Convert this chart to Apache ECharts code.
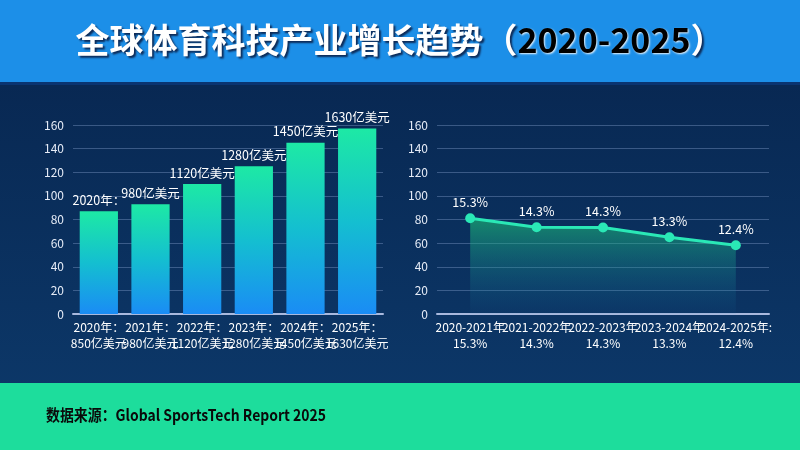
<!DOCTYPE html>
<html>
<head>
<meta charset="utf-8">
<script src="https://cdn.jsdelivr.net/npm/echarts@6/dist/echarts.min.js"></script>
<style>
html,body{margin:0;padding:0;width:800px;height:450px;overflow:hidden;background:#0b2d5a;}
#c{width:800px;height:450px;}
</style>
</head>
<body>
<div id="c"></div>
<script>
// Data
var titleMain = '全球体育科技产业增长趋势（';
var titleYears = '2020-2025';
var titleEnd = '）';
var sourceText = '数据来源：Global SportsTech Report 2025';

var barCategories = ['2020年：\n850亿美元', '2021年：\n980亿美元', '2022年：\n1120亿美元', '2023年：\n1280亿美元', '2024年：\n1450亿美元', '2025年：\n1630亿美元'];
var barValues = [87, 93, 110, 125, 145, 157];
var barLabels = ['2020年：', '980亿美元', '1120亿美元', '1280亿美元', '1450亿美元', '1630亿美元'];

var lineCategories = ['2020-2021年\n15.3%', '2021-2022年\n14.3%', '2022-2023年\n14.3%', '2023-2024年\n13.3%', '2024-2025年:\n12.4%'];
var lineValues = [81, 73.5, 73.3, 65, 58.2];
var lineLabels = ['15.3%', '14.3%', '14.3%', '13.3%', '12.4%'];

var yTicks = {min: 0, max: 160, interval: 20};

var FONT = '"Noto Sans CJK SC", "Noto Sans", sans-serif';
var chart = echarts.init(document.getElementById('c'), null, {renderer: 'canvas'});

function yAxis(idx) {
  return {
    type: 'value', gridIndex: idx, min: yTicks.min, max: yTicks.max, interval: yTicks.interval,
    axisLine: {show: false}, axisTick: {show: false},
    axisLabel: {color: '#e6ecf7', fontSize: 12, fontFamily: FONT, margin: 9},
    splitLine: {lineStyle: {color: 'rgba(140,165,210,0.38)', width: 1}}
  };
}
function xAxis(idx, cats) {
  return {
    type: 'category', gridIndex: idx, data: cats,
    axisLine: {lineStyle: {color: '#a9b9de', width: 2}},
    axisTick: {show: false},
    axisLabel: {color: '#ffffff', fontSize: 12, fontFamily: FONT, interval: 0, lineHeight: 16, margin: 5}
  };
}

chart.setOption({
  backgroundColor: {
    type: 'linear', x: 0, y: 0, x2: 0, y2: 1,
    colorStops: [{offset: 0, color: '#07244d'}, {offset: 1, color: '#0d3a6c'}]
  },
  animation: false,
  graphic: [
    {type: 'rect', left: 0, top: 0, shape: {width: 800, height: 82}, style: {fill: '#1c8fe8'}, z: 0},
    {type: 'rect', left: 0, top: 82, shape: {width: 800, height: 3}, style: {fill: '#0a3470'}, z: 0},
    {type: 'rect', left: 0, top: 383, shape: {width: 800, height: 67}, style: {fill: '#1ddd9c'}, z: 0},
    {
      type: 'text', x: 400, y: 40, z: 10,
      style: {
        text: '{w|' + titleMain + '}{b|' + titleYears + '}{w|' + titleEnd + '}',
        align: 'center', verticalAlign: 'middle',
        rich: {
          w: {fill: '#ffffff', fontSize: 34, fontWeight: 'bold', fontFamily: FONT,
              textShadowColor: 'rgba(10,30,70,0.9)', textShadowOffsetX: 2, textShadowOffsetY: 2, textShadowBlur: 2},
          b: {fill: '#000000', fontSize: 34, fontWeight: 'bold', fontFamily: FONT,
              textShadowColor: 'rgba(255,255,255,0.9)', textShadowOffsetX: 1, textShadowOffsetY: 1, textShadowBlur: 2}
        }
      }
    },
    {
      type: 'text', x: 46, y: 415, z: 10, scaleX: 0.87,
      style: {text: sourceText, fill: '#0a0a0a', fontSize: 16, fontWeight: 'bold', fontFamily: FONT, verticalAlign: 'middle'}
    }
  ],
  grid: [
    {left: 73, right: 417, top: 125, bottom: 136},
    {left: 437, right: 31, top: 125, bottom: 136}
  ],
  xAxis: [xAxis(0, barCategories), xAxis(1, lineCategories)],
  yAxis: [yAxis(0), yAxis(1)],
  series: [
    {
      type: 'bar', xAxisIndex: 0, yAxisIndex: 0, data: barValues,
      barCategoryGap: '26%',
      itemStyle: {
        color: {type: 'linear', x: 0, y: 0, x2: 0, y2: 1,
          colorStops: [{offset: 0, color: '#1de9a5'}, {offset: 0.5, color: '#14bfd0'}, {offset: 1, color: '#1a8cf5'}]}
      },
      label: {
        show: true, position: 'top', distance: 5, color: '#ffffff', fontSize: 12.5, fontFamily: FONT,
        formatter: function (p) { return barLabels[p.dataIndex]; }
      }
    },
    {
      type: 'line', xAxisIndex: 1, yAxisIndex: 1, data: lineValues,
      symbol: 'circle', symbolSize: 10,
      lineStyle: {color: '#2ae8b6', width: 3},
      itemStyle: {color: '#2ae8b6'},
      areaStyle: {
        color: {type: 'linear', x: 0, y: 0, x2: 0, y2: 1,
          colorStops: [{offset: 0, color: 'rgba(30,205,120,0.82)'}, {offset: 1, color: 'rgba(20,110,170,0.08)'}]}
      },
      label: {
        show: true, position: 'top', distance: 5, color: '#ffffff', fontSize: 12.5, fontFamily: FONT,
        formatter: function (p) { return lineLabels[p.dataIndex]; }
      }
    }
  ]
});
</script>
</body>
</html>
